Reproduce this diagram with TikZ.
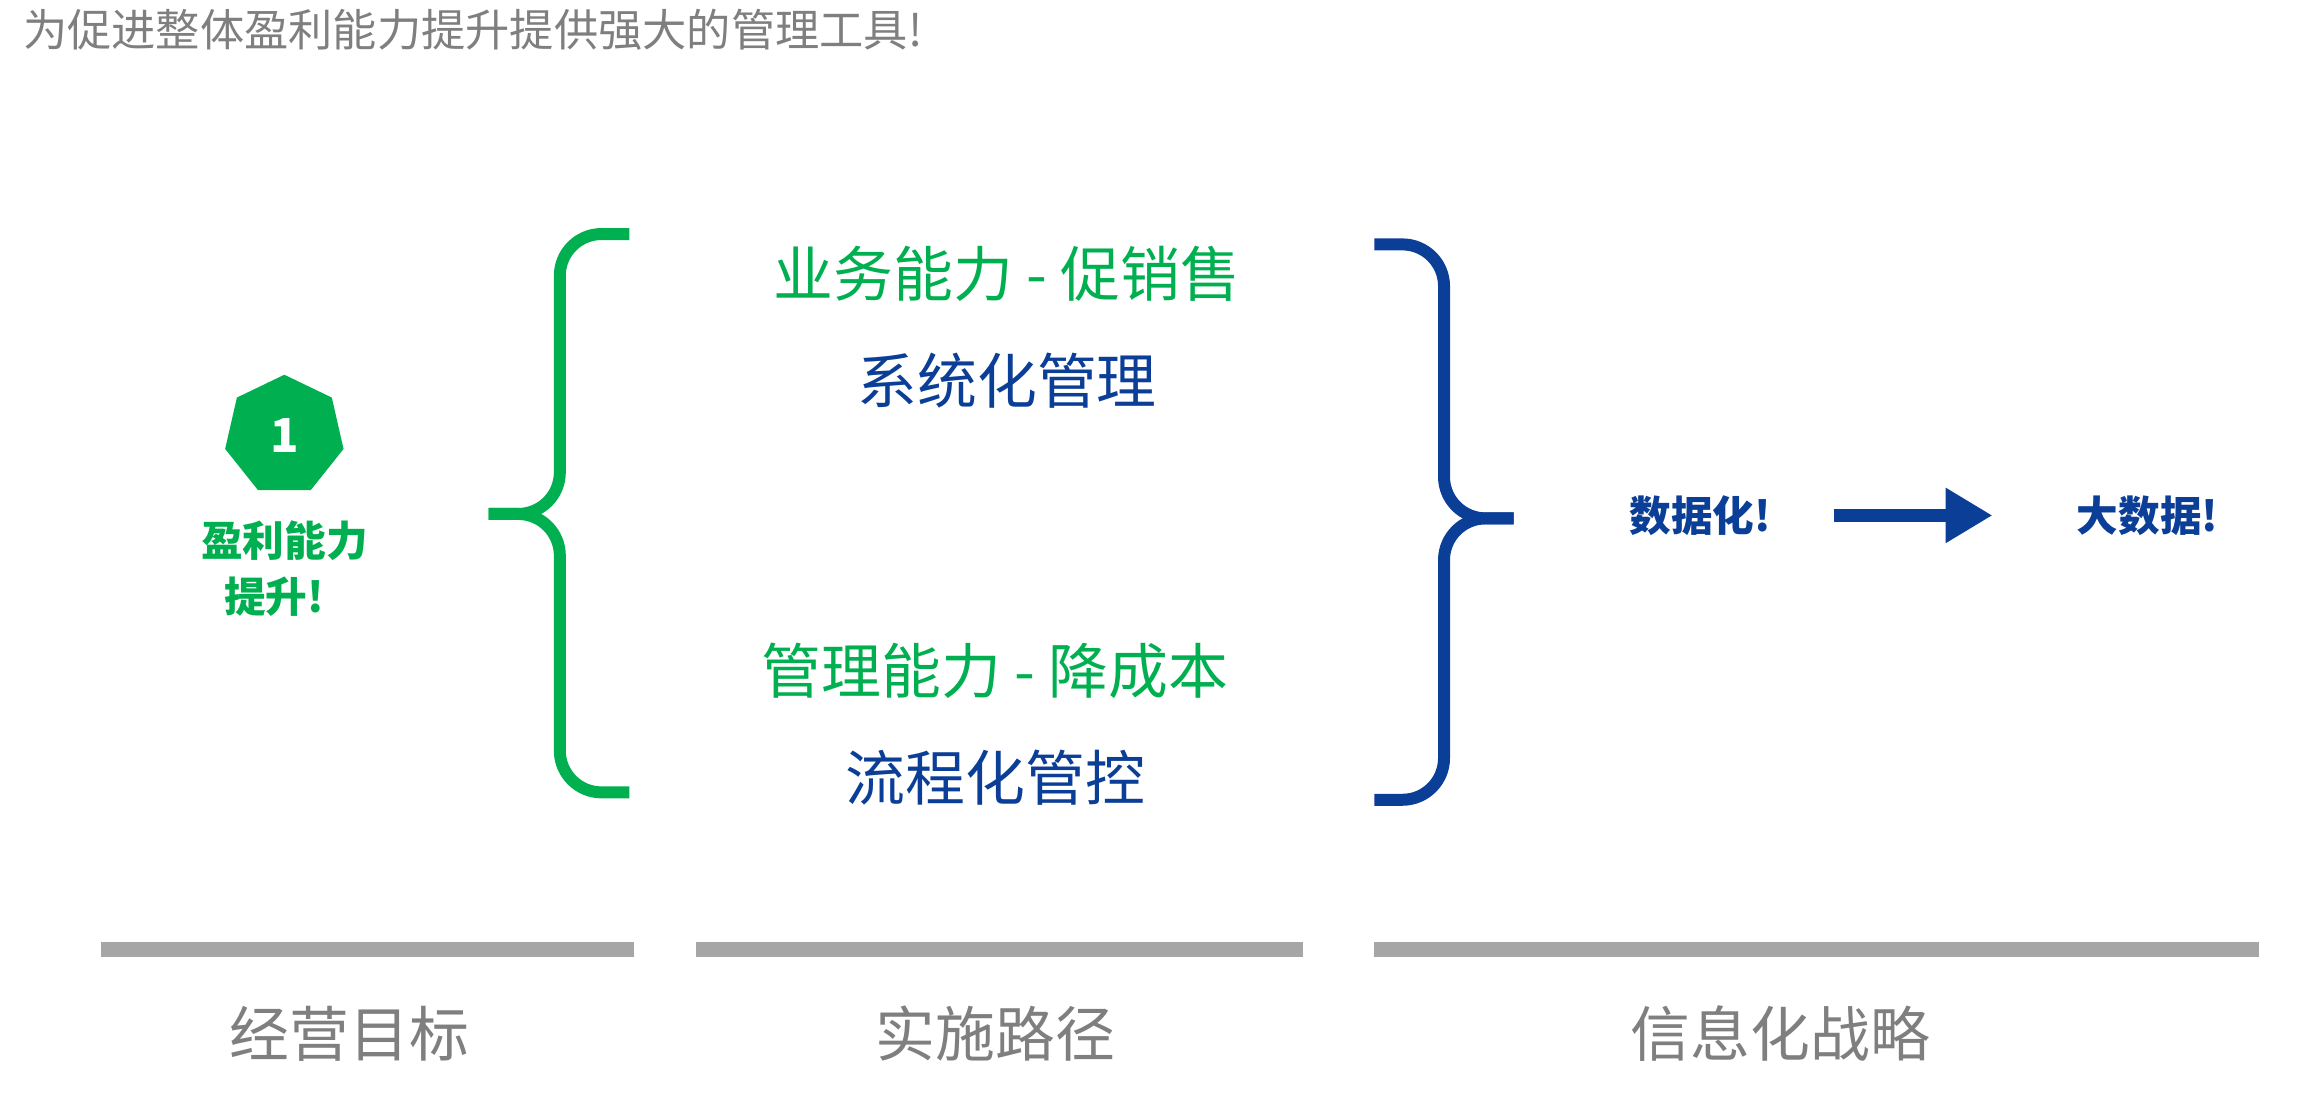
\documentclass[tikz,border=0pt]{standalone}
\usepackage{fontspec}
\setmainfont{Noto Sans CJK SC}
\usetikzlibrary{shapes.geometric,arrows.meta}
\definecolor{ygreen}{HTML}{00B050}
\definecolor{yblue}{HTML}{0B3E96}
\definecolor{ygray}{HTML}{7F7F7F}
\definecolor{ylightgray}{HTML}{A6A6A6}
\begin{document}
\begin{tikzpicture}[x=0.1mm,y=-0.1mm]
\tikzstyle{every node}=[inner sep=0pt]
\tikzstyle{pathtext}=[font=\fontsize{11.5pt}{14pt}\selectfont]
\tikzstyle{goal}=[font=\fontsize{8pt}{10pt}\selectfont\bfseries, ygreen]
\tikzstyle{info}=[font=\fontsize{8pt}{10pt}\selectfont\bfseries, yblue]
\tikzstyle{grayline}=[draw=ylightgray, line width=2.8pt]
\tikzstyle{label}=[font=\fontsize{11.5pt}{14pt}\selectfont, ygray]
\useasboundingbox (0,0) rectangle (1555,746);
\node[anchor=west, ygray, font=\fontsize{8.5pt}{10pt}\selectfont] (title) at (15,20) {为促进整体盈利能力提升提供强大的管理工具!};
%%%%%%%%%%%%%
\node[regular polygon, regular polygon sides=7, fill=ygreen, minimum size=0.82cm, text=white, font=\fontsize{9pt}{10pt}\selectfont\bfseries] (one) at (192,294) {1};
\node[goal] (goal1) at (192,365) {盈利能力};
\node[goal] (goal2) at (185,403) {提升!};
%%%%%%%%%%%%%
\draw[ygreen, line width=2.3pt, rounded corners=8] (425,158) -- (378,158) -- (378,347) -- (330,347);
\draw[ygreen, line width=2.3pt, rounded corners=8] (425,535) -- (378,535) -- (378,347) -- (330,347);
\draw[yblue, line width=2.3pt, rounded corners=8] (928,165) -- (975,165) -- (975,350) -- (1022,350);
\draw[yblue, line width=2.3pt, rounded corners=8] (928,540) -- (975,540) -- (975,350) -- (1022,350);
%%%%%%%%%%%%%
\node[pathtext, ygreen] (sales) at (680,185) {业务能力 - 促销售};
\node[pathtext, yblue] (sys) at (680,257) {系统化管理};
\node[pathtext, ygreen] (cost) at (672,453) {管理能力 - 降成本};
\node[pathtext, yblue] (flow) at (672,525) {流程化管控};
%%%%%%%%%%%%%
\node[info] (data) at (1148,348) {数据化!};
\node[info] (bigdata) at (1450,348) {大数据!};
\draw[yblue, line width=2.6pt, -{Triangle[length=9pt,width=10pt]}, shorten <=12pt, shorten >=16pt] (data.east) -- (bigdata.west);
%%%%%%%%%%%%%
\draw[grayline] (68,641) -- (428,641);
\draw[grayline] (470,641) -- (880,641);
\draw[grayline] (928,641) -- (1525,641);
\node[label] (target) at (236,698) {经营目标};
\node[label] (route) at (672,698) {实施路径};
\node[label] (strategy) at (1202,698) {信息化战略};
\end{tikzpicture}
\end{document}
